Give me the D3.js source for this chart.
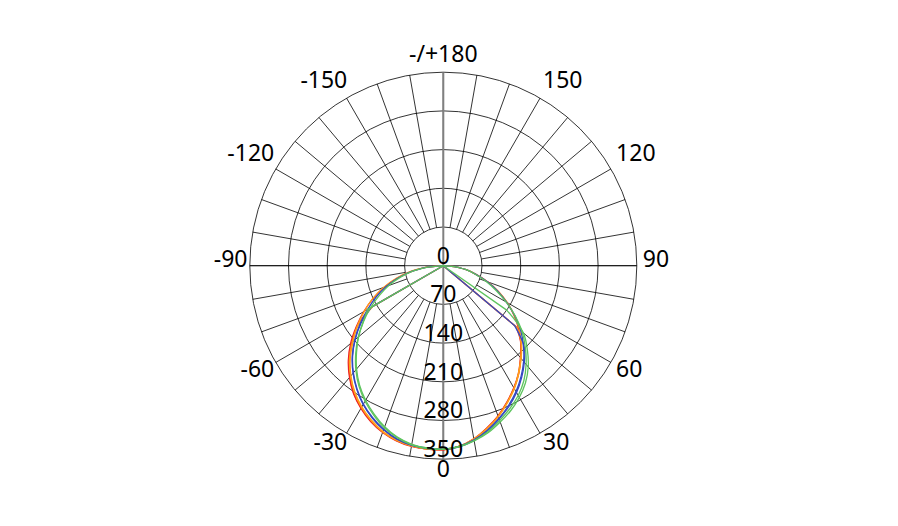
<!DOCTYPE html>
<html><head><meta charset="utf-8">
<script src="https://cdn.jsdelivr.net/npm/d3@7"></script>
<style>
body{margin:0;background:#fff;}
svg{display:block;}
text{font-family:"Noto Sans",sans-serif;font-size:23px;fill:#000;}
</style>
</head><body>
<svg id="c" width="898" height="526"></svg>
<script>
// ---- data ----
const angles = [-90,-85,-80,-75,-70,-65,-60,-55,-50,-45,-40,-35,-30,-25,-20,-15,-10,-5,0,5,10,15,20,25,30,35,40,45,50,55,60,65,70,75,80,85,90];
const redA    = [0,30,58,86,113,140,166,192,219,243,264,283,298,311,321,328,332,333,333,328,318,304,289,272,255,237,217,198,178,156,133,109,85,62,42,20,0];
const redB    = [0,0,0,0,0,0,150,190,216,241,263,282,297,310,320,327,331,333,333,328,319,305,290,273,256,238,218,199,172,0,0,0,0,0,0,0,0];
const orangeA = [0,31,60,88,115,141,165,190,215,240,261,280,296,309,320,327,331,333,332,328,318,305,290,273,256,237,218,199,180,157,134,110,85,62,42,20,0];
const orangeB = [0,0,0,0,0,0,147,188,213,238,260,279,295,308,319,326,331,332,332,328,319,306,291,274,257,238,219,200,174,0,0,0,0,0,0,0,0];
const blueA   = [0,29,57,84,110,134,158,184,209,233,254,273,290,304,316,325,330,332,332,328,320,308,294,279,263,245,226,205,183,158,132,108,84,61,42,20,0];
const blueB   = [0,0,0,0,0,0,150,182,208,232,253,272,289,303,315,324,329,331,332,329,321,309,295,281,265,247,228,207,168,0,0,0,0,0,0,0,0];
const greenA  = [0,28,55,80,105,128,152,176,200,222,244,264,281,296,310,321,328,331,332,328,321,311,298,285,271,254,233,210,186,159,131,105,82,60,42,20,0];
const greenB  = [0,0,0,0,0,0,158,177,201,224,246,266,283,298,312,322,329,332,332,329,322,313,301,289,275,259,239,215,189,140,0,0,0,0,0,0,0];

const radialTicks = [0,70,140,210,280,350];
const thetaTicks  = [0,30,60,90,120,150,180,-150,-120,-90,-60,-30];
const thetaLabels = ["0","30","60","90","120","150","-/+180","-150","-120","-90","-60","-30"];
const spokeAngles = d3.range(-170,181,10);

const series = [
  {name:"redA", values:redA, color:"#ee2222"},
  {name:"redB", values:redB, color:"#ee2222"},
  {name:"orangeA", values:orangeA, color:"#ff9e1b"},
  {name:"orangeB", values:orangeB, color:"#ff9e1b"},
  {name:"blueA", values:blueA, color:"#3347c2"},
  {name:"blueB", values:blueB, color:"#3347c2"},
  {name:"greenA", values:greenA, color:"#5ec45e"},
  {name:"greenB", values:greenB, color:"#5ec45e"}
];

// ---- layout ----
const cx = 443.3, cy = 265.7;
const rScale = d3.scaleLinear().domain([0,350]).range([0,193.5]);
const R = rScale(350);
const svg = d3.select("#c");
const g = svg.append("g").attr("transform",`translate(${cx},${cy})`);
const rad = t => t*Math.PI/180;
// theta 0 at bottom, positive to the right (counter-clockwise on screen)
const px = (t,r) => r*Math.sin(rad(t));
const py = (t,r) => r*Math.cos(rad(t));

// circles
g.selectAll("circle.grid").data(radialTicks.filter(d=>d>0)).join("circle")
  .attr("class","grid").attr("r",d=>rScale(d))
  .attr("fill","none").attr("stroke","#000").attr("stroke-width",0.8);

// spokes from first ring outward
g.selectAll("line.spoke").data(spokeAngles).join("line")
  .attr("class","spoke")
  .attr("x1",d=>px(d,rScale(70))).attr("y1",d=>py(d,rScale(70)))
  .attr("x2",d=>px(d,R)).attr("y2",d=>py(d,R))
  .attr("stroke","#000").attr("stroke-width",0.8);

// horizontal line through the centre (-90 .. 90)
g.append("line").attr("x1",px(-90,R)).attr("y1",py(-90,R)).attr("x2",px(90,R)).attr("y2",py(90,R))
  .attr("stroke","#000").attr("stroke-width",0.8);
// vertical grey axis (0 .. 180)
g.append("line").attr("x1",px(0,R)).attr("y1",py(0,R)).attr("x2",px(180,R)).attr("y2",py(180,R))
  .attr("stroke","#808080").attr("stroke-width",2);

// curves: straight from the centre to the first/last non-zero value, smooth in between
const line = d3.lineRadial()
  .angle(d => Math.PI - rad(d[0]))
  .radius(d => rScale(d[1]))
  .curve(d3.curveCatmullRom.alpha(0.5));
series.forEach(s => {
  const pts = angles.map((a,i)=>[a,s.values[i]]).filter(d=>d[1]>0);
  const inner = line(pts);
  const d = "M0,0L" + inner.slice(1) + "L0,0";
  g.append("path")
    .attr("d",d)
    .attr("fill","none").attr("stroke",s.color).attr("stroke-width",1.3)
    .attr("stroke-linejoin","round");
});

// radial labels
g.selectAll("text.rl").data(radialTicks).join("text")
  .attr("class","rl").attr("text-anchor","middle")
  .attr("x",0).attr("y",d=>rScale(d)-2)
  .text(d=>d);

// theta labels
const capH = 16.4;
thetaTicks.forEach((t,i)=>{
  const dx = Math.sin(rad(t)), dy = Math.cos(rad(t));
  const lbl = thetaLabels[i];
  const txt = g.append("text").attr("text-anchor","middle").text(lbl);
  let w = txt.node().getComputedTextLength();
  // leading hyphen on the left-hand labels sits closer to the circle
  if (lbl.startsWith("-") && dx < -1e-6) w -= 7.4;
  const sx = Math.abs(dx)<1e-6?0:Math.sign(dx);
  const sy = Math.abs(dy)<1e-6?0:Math.sign(dy);
  const R0 = R + 6;
  const x = R0*dx + sx*w/2;
  const y = R0*dy + sy*capH/2 - (sy===0 ? 7 : 4.5);
  txt.attr("x",x).attr("y",y + capH/2);
});
</script>
</body></html>
